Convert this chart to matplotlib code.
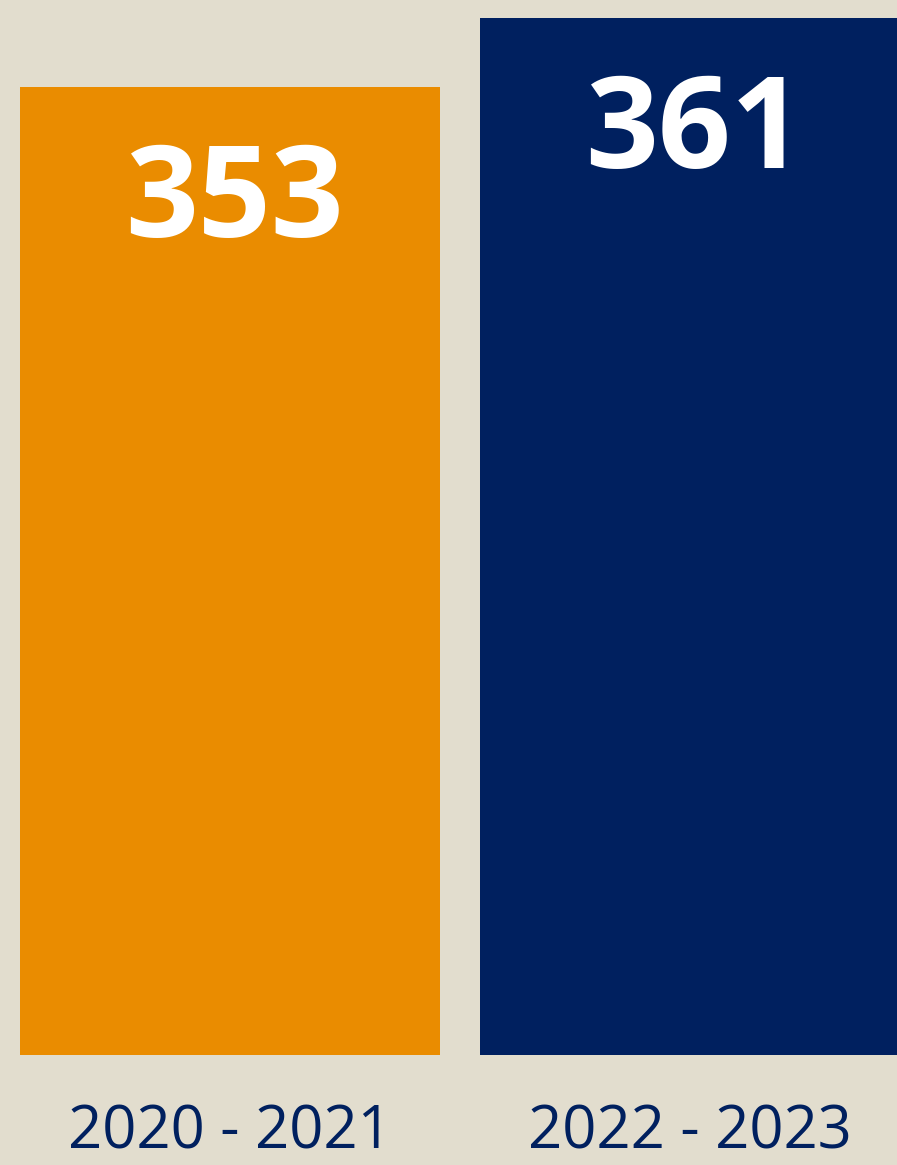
import matplotlib.pyplot as plt

periods = ["2020 - 2021", "2022 - 2023"]
counts = [353, 361]
colors = ["#EA8C00", "#00205F"]

bg = "#E2DDCE"
navy = "#00205F"
fonts = ["Open Sans", "DejaVu Sans"]

fig = plt.figure(figsize=(8.97, 11.65), dpi=100, facecolor=bg)
ax = fig.add_axes([0, 0.0944, 1, 0.9056])
ax.set_facecolor(bg)

x = list(range(len(periods)))
bars = ax.bar(x, counts, width=0.913, color=colors)

ax.set_xlim(-0.5, 1.45)
ax.set_ylim(240.8, 363.1)

# value labels inside bars, near the top
for b, v in zip(bars, counts):
    ax.annotate(str(v), (b.get_x() + b.get_width() / 2, v),
                xytext=(3, -84), textcoords="offset points",
                ha="center", va="center", color="white",
                fontsize=92, fontweight="bold", family=fonts)

ax.set_xticks(x)
ax.set_xticklabels(periods, fontsize=43, color=navy, family=fonts)
ax.tick_params(axis="x", length=0, pad=34)
ax.set_yticks([])
for s in ax.spines.values():
    s.set_visible(False)

fig.savefig("out.png", dpi=100, facecolor=bg)
